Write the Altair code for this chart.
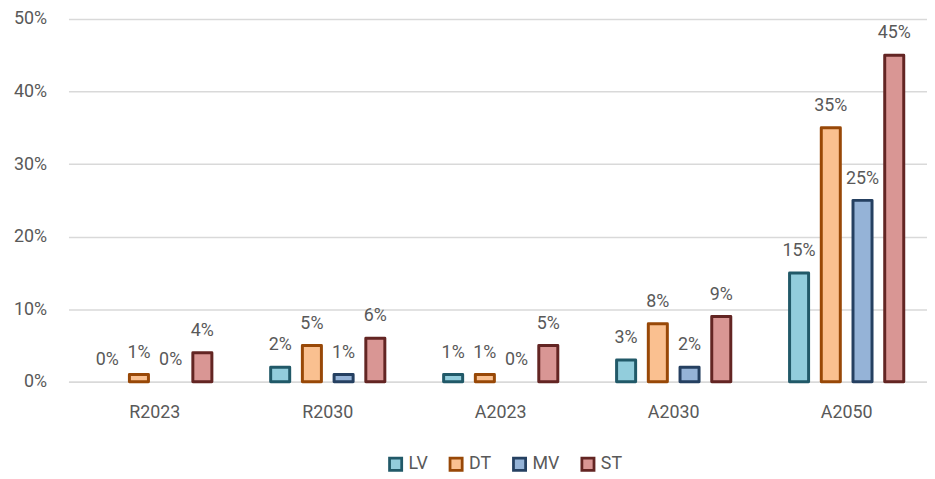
import altair as alt
import pandas as pd

categories = ["R2023", "R2030", "A2023", "A2030", "A2050"]
series = ["LV", "DT", "MV", "ST"]
lv = [0, 2, 1, 3, 15]
dt = [1, 5, 1, 8, 35]
mv = [0, 1, 0, 2, 25]
st = [4, 6, 5, 9, 45]
y_ticks = [0, 0.1, 0.2, 0.3, 0.4, 0.5]

fills = ["#92CDDC", "#FAC090", "#95B3D7", "#D99694"]
strokes = ["#215968", "#984807", "#254061", "#632523"]

rows = []
for s, vals in zip(series, [lv, dt, mv, st]):
    for c, v in zip(categories, vals):
        rows.append({"cat": c, "series": s, "v": v / 100})
df = pd.DataFrame(rows)

FONT = "Roboto"
TXT = "#595959"

legend = alt.Legend(title=None, orient="none", legendX=321, legendY=440,
                    direction="horizontal",
                    symbolType="square", symbolSize=150, symbolStrokeWidth=2.8,
                    labelFontSize=18, labelFont=FONT, labelColor=TXT,
                    columnPadding=16, labelOffset=4)

x = alt.X("cat:N", sort=categories, title=None,
          scale=alt.Scale(paddingInner=0.2665, paddingOuter=0.115, align=0.575),
          axis=alt.Axis(labelAngle=0, ticks=False, domain=True, domainColor="#D9D9D9",
                        domainWidth=1.5, labelPadding=22, labelFontSize=18,
                        labelFont=FONT, labelColor=TXT))
xo = alt.XOffset("series:N", sort=series,
                 scale=alt.Scale(domain=series, paddingInner=0.4, paddingOuter=0.2))
y = alt.Y("v:Q", title=None,
          scale=alt.Scale(domain=[0, 0.5]),
          axis=alt.Axis(values=y_ticks, format=".0%", domain=False, ticks=False,
                        gridColor="#D9D9D9", gridWidth=1.5, labelPadding=22,
                        labelFontSize=18, labelFont=FONT, labelColor=TXT))

base = alt.Chart(df)

bars = base.transform_filter("datum.v > 0").mark_bar(strokeWidth=3, strokeJoin="round").encode(
    x=x, xOffset=xo, y=y,
    fill=alt.Fill("series:N", scale=alt.Scale(domain=series, range=fills), legend=legend),
    stroke=alt.Stroke("series:N", scale=alt.Scale(domain=series, range=strokes), legend=legend),
)

labels = base.mark_text(dy=-22, fontSize=18, font=FONT, color=TXT, baseline="middle").encode(
    x=x, xOffset=xo, y=y,
    text=alt.Text("v:Q", format=".0%"),
)

chart = (bars + labels).properties(
    width=866, height=366,
    padding={"left": 5, "top": 0, "right": 0, "bottom": 0},
).configure_view(stroke=None)

chart.save("out.html", embed_options={"renderer": "svg", "actions": False})
